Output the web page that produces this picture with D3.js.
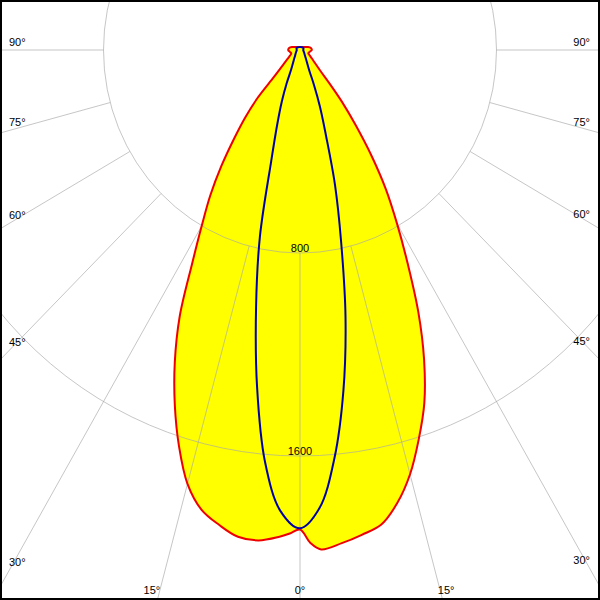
<!DOCTYPE html>
<html>
<head>
<meta charset="utf-8">
<script src="https://cdn.jsdelivr.net/npm/d3@7"></script>
<style>
  html, body { margin: 0; padding: 0; background: #fff; }
  svg { display: block; }
  text { font-family: "Liberation Sans", Arial, sans-serif; font-size: 11px; fill: #000; }
</style>
</head>
<body>
<svg id="chart" width="600" height="600"></svg>
<script>
// ---- data (gamma angles in degrees, intensities in cd) ----
const gammaRed = [0,1.25,2.5,5,7.5,10,12.5,15,17.5,20,22.5,25,27.5,30,32.5,35,37.5,40,42.5,45,50,55,60,65,70,80,90,100,110,130,150,180];
const redRight = [1890,1943,1970,1951,1927,1900,1829,1731,1608,1480,1320,1140,950,790,651,505,370,263,174,120,79,60,48,40,36,40,48,45,35,18,14,12];
const redLeft  = [1890,1906,1920,1940,1935,1900,1855,1770,1638,1490,1332,1159,953,800,680,558,442,347,254,150,88,63,49,41,38,42,48,45,35,18,14,12];

const gammaBlue = [0,2.5,5,7.5,10,12.5,15,17.5,20,22.5,25,30,35,40,50,60,70,80,90,100,120,150,180];
const blueRight = [1885,1808,1613,1354,1067,773,551,349,237,148,90,57,42,33,24,19,16,14,13,14,16,13,12];
const blueLeft  = [1885,1819,1631,1339,1030,755,452,309,217,141,86,55,41,32,24,19,16,14,13,14,16,13,12];

const ringValues = [800, 1600];
const rayAngles = [-90,-75,-60,-45,-30,-15,0,15,30,45,60,75,90];
const rayLabels = ["90°","75°","60°","45°","30°","15°","0°","15°","30°","45°","60°","75°","90°"];

// ---- layout ----
const W = 600, H = 600;
const cx = 300, cy = 50;
const svg = d3.select("#chart");

const sx = d3.scaleLinear().domain([0, 800]).range([0, 196.5]);
const sy = d3.scaleLinear().domain([0, 800]).range([0, 203]);
const rad = a => a * Math.PI / 180;

// point for signed angle (negative = left side)
function pt(angle, I) {
  return [cx + Math.sin(rad(angle)) * sx(I), cy + Math.cos(rad(angle)) * sy(I)];
}

function closedSeries(gam, left, right) {
  const pts = [];
  for (let i = gam.length - 1; i >= 0; i--) pts.push(pt(-gam[i], left[i]));
  for (let i = 1; i < gam.length; i++) pts.push(pt(gam[i], right[i]));
  return pts;
}

const line = d3.line().curve(d3.curveCatmullRom.alpha(0.5));

const redPts = closedSeries(gammaRed, redLeft, redRight);
const bluePts = closedSeries(gammaBlue, blueLeft, blueRight);

// fill
svg.append("path")
  .attr("d", line(redPts) + "Z")
  .attr("fill", "#ffff00")
  .attr("stroke", "none");

// grid
const grid = svg.append("g")
  .attr("stroke", "#a8a8a8")
  .attr("stroke-opacity", 0.65)
  .attr("stroke-width", 1)
  .attr("fill", "none");

grid.selectAll("ellipse").data(ringValues).join("ellipse")
  .attr("cx", cx).attr("cy", cy)
  .attr("rx", d => sx(d)).attr("ry", d => sy(d));

grid.selectAll("line").data(rayAngles).join("line")
  .attr("x1", d => pt(d, ringValues[0])[0])
  .attr("y1", d => pt(d, ringValues[0])[1])
  .attr("x2", d => pt(d, 6000)[0])
  .attr("y2", d => pt(d, 6000)[1]);

// curves
svg.append("path")
  .attr("d", line(redPts) + "Z")
  .attr("fill", "none")
  .attr("stroke", "#ee0000")
  .attr("stroke-width", 2)
  .attr("stroke-linejoin", "round");

svg.append("path")
  .attr("d", line(bluePts) + "Z")
  .attr("fill", "none")
  .attr("stroke", "#0000a8")
  .attr("stroke-width", 2)
  .attr("stroke-linejoin", "round");

// ring labels
svg.selectAll("text.ring").data(ringValues).join("text")
  .attr("class", "ring")
  .attr("x", cx)
  .attr("y", d => cy + sy(d) - 1)
  .attr("text-anchor", "middle")
  .text(d => d);

// angle labels
function labelPos(a) {
  const s = Math.sin(rad(a)), c = Math.cos(rad(a));
  const kx = sx(1), ky = sy(1);
  // ray: x = cx + t*s*kx, y = cy + t*c*ky
  const edgeX = a < 0 ? 9 : 590;
  const bottomY = 594;
  if (Math.abs(s) > 1e-6) {
    const t = (edgeX - cx) / (s * kx);
    const yAt = cy + t * c * ky;
    if (yAt <= 575) {
      return { x: edgeX, y: yAt - 4.5, anchor: a < 0 ? "start" : "end" };
    }
  }
  const t = (bottomY - cy) / (c * ky);
  const xAt = cx + t * s * kx;
  const off = a < 0 ? -7 : (a > 0 ? 5 : 0);
  return { x: xAt + off, y: bottomY, anchor: "middle" };
}

svg.selectAll("text.ang").data(rayAngles).join("text")
  .attr("class", "ang")
  .each(function(d, i) {
    const p = labelPos(d);
    d3.select(this).attr("x", p.x).attr("y", p.y).attr("text-anchor", p.anchor).text(rayLabels[i]);
  });

// frame
svg.append("rect")
  .attr("x", 1).attr("y", 1).attr("width", W - 2).attr("height", H - 2)
  .attr("fill", "none").attr("stroke", "#000").attr("stroke-width", 2);
</script>
</body>
</html>
